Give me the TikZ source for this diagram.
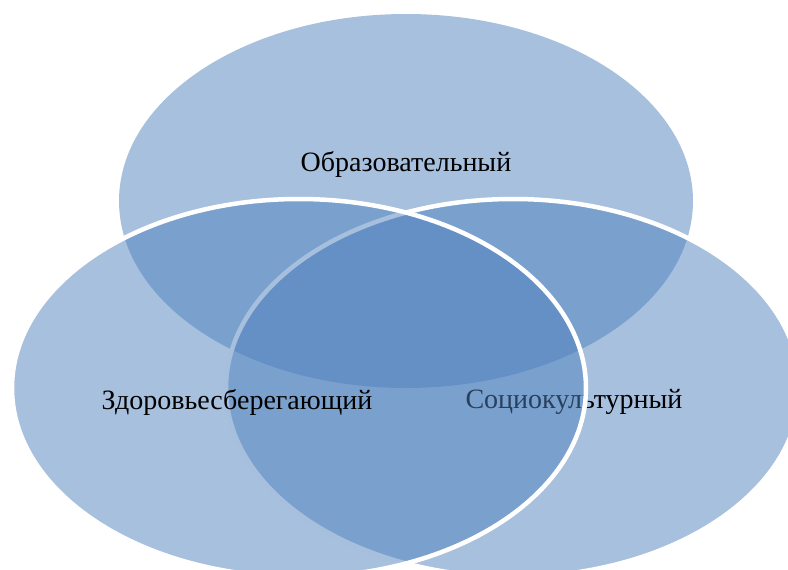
\documentclass[tikz,border=0pt]{standalone}
\usepackage{fontspec}
\setmainfont{Liberation Serif}
\definecolor{vennblue}{HTML}{4F81BD}
\begin{document}
\begin{tikzpicture}[x=1pt,y=-1pt,
  venn/.style={fill=vennblue,fill opacity=0.5},
  vennb/.style={venn,draw=white,draw opacity=1,line width=4.5pt},
  lbl/.style={font=\fontsize{28}{32}\selectfont,text=black,inner sep=0pt}]
\useasboundingbox (0,0) rectangle (788,570);
\clip (0,0) rectangle (788,570);
% top
\path[venn] (406,201) ellipse [x radius=287pt, y radius=187pt];
\node[lbl] (edu) at (406,164) {Образовательный};
% right
\path[vennb] (513,388) ellipse [x radius=287pt, y radius=189pt];
\node[lbl] (soc) at (574,402) {Социокультурный};
% left
\path[vennb] (299,388) ellipse [x radius=287pt, y radius=189pt];
\node[lbl] (hlth) at (237,402) {Здоровьесберегающий};
\end{tikzpicture}
\end{document}
